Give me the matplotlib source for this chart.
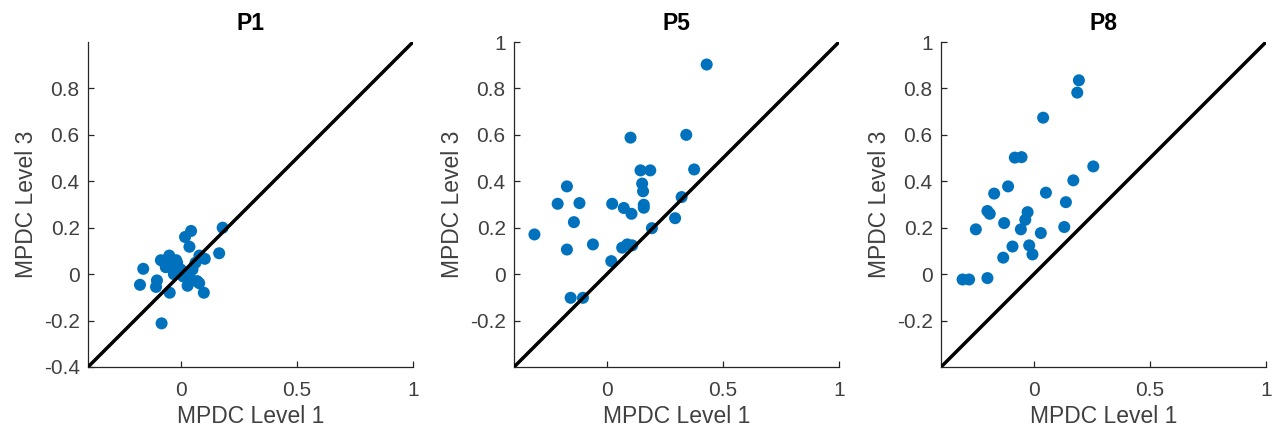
import matplotlib
matplotlib.use("Agg")
import matplotlib.pyplot as plt

plt.rcParams['font.family'] = ['Liberation Sans', 'DejaVu Sans']

titles = ["P1", "P5", "P8"]

p1_x = [0.18, 0.044, 0.018, 0.037, 0.165, 0.103, 0.08, -0.086, -0.05, -0.162, -0.176,
        -0.103, -0.107, -0.048, -0.083, 0.099, 0.079, 0.029, 0.04, -0.04, -0.016, -0.03,
        0.0, 0.05, 0.063, -0.06, -0.02, 0.01, 0.03, -0.065, 0.07]
p1_y = [0.2, 0.186, 0.16, 0.118, 0.09, 0.066, 0.08, 0.06, 0.08, 0.023, -0.046,
        -0.027, -0.055, -0.08, -0.212, -0.08, -0.039, -0.05, -0.02, 0.027, 0.049, 0.0,
        0.02, 0.02, 0.049, 0.04, 0.06, -0.01, 0.0, 0.03, -0.03]

p5_x = [0.43, 0.342, 0.102, 0.376, 0.145, 0.187, 0.152, 0.156, 0.159, 0.159, 0.322,
        0.294, 0.194, -0.172, -0.212, -0.118, 0.023, 0.073, 0.106, -0.142, -0.312,
        -0.172, -0.06, 0.066, 0.088, 0.109, 0.019, -0.156, -0.103]
p5_y = [0.903, 0.60, 0.588, 0.451, 0.447, 0.447, 0.39, 0.357, 0.299, 0.286, 0.332,
        0.241, 0.198, 0.378, 0.303, 0.306, 0.303, 0.285, 0.26, 0.224, 0.171,
        0.106, 0.128, 0.114, 0.128, 0.124, 0.056, -0.102, -0.102]

p8_x = [0.194, 0.187, 0.04, -0.082, -0.053, 0.256, 0.17, -0.111, -0.171, 0.052, 0.138,
        -0.2, -0.19, -0.027, -0.037, -0.128, -0.056, -0.25, 0.03, 0.131, -0.092,
        -0.02, -0.006, -0.132, -0.307, -0.279, -0.2]
p8_y = [0.835, 0.782, 0.674, 0.502, 0.504, 0.464, 0.404, 0.378, 0.347, 0.351, 0.31,
        0.272, 0.26, 0.267, 0.234, 0.22, 0.193, 0.193, 0.177, 0.203, 0.119,
        0.124, 0.085, 0.071, -0.023, -0.023, -0.017]

xs = [p1_x, p5_x, p8_x]
ys = [p1_y, p5_y, p8_y]
yticks_list = [[-0.4, -0.2, 0, 0.2, 0.4, 0.6, 0.8],
               [-0.2, 0, 0.2, 0.4, 0.6, 0.8, 1],
               [-0.2, 0, 0.2, 0.4, 0.6, 0.8, 1]]
xticks = [0, 0.5, 1]
diag = [-0.4, 1.0]

W, H = 1279, 433
fig = plt.figure(figsize=(W / 100, H / 100), dpi=100)
lefts = [88, 514, 941]
gray = '#262626'
txt = '#404040'
for i in range(3):
    ax = fig.add_axes([lefts[i] / W, (H - 367) / H, 325 / W, 325 / H])
    ax.plot(diag, diag, color='black', lw=2.5, zorder=3, solid_capstyle='butt')
    ax.scatter(xs[i], ys[i], s=75, color='#0072BD', edgecolors='none', zorder=2)
    ax.set_xlim(-0.4, 1)
    ax.set_ylim(-0.4, 1)
    ax.set_xticks(xticks)
    ax.set_xticklabels(['0', '0.5', '1'])
    ax.set_yticks(yticks_list[i])
    ax.set_yticklabels([('%g' % v) for v in yticks_list[i]])
    for s in ['top', 'right']:
        ax.spines[s].set_visible(False)
    for s in ['left', 'bottom']:
        ax.spines[s].set_color(gray)
        ax.spines[s].set_linewidth(0.9)
    ax.tick_params(direction='in', length=4, width=0.9, colors=gray, labelcolor=txt,
                   labelsize=15)
    ax.tick_params(axis='x', pad=10)
    ax.tick_params(axis='y', pad=6)
    ax.set_xlabel('MPDC Level 1', fontsize=16.5, color=txt, labelpad=4)
    ax.set_ylabel('MPDC Level 3', fontsize=16.5, color=txt, labelpad=4)
    ax.set_title(titles[i], fontsize=16.5, fontweight='bold', pad=9)

fig.savefig('out.png', dpi=100)
